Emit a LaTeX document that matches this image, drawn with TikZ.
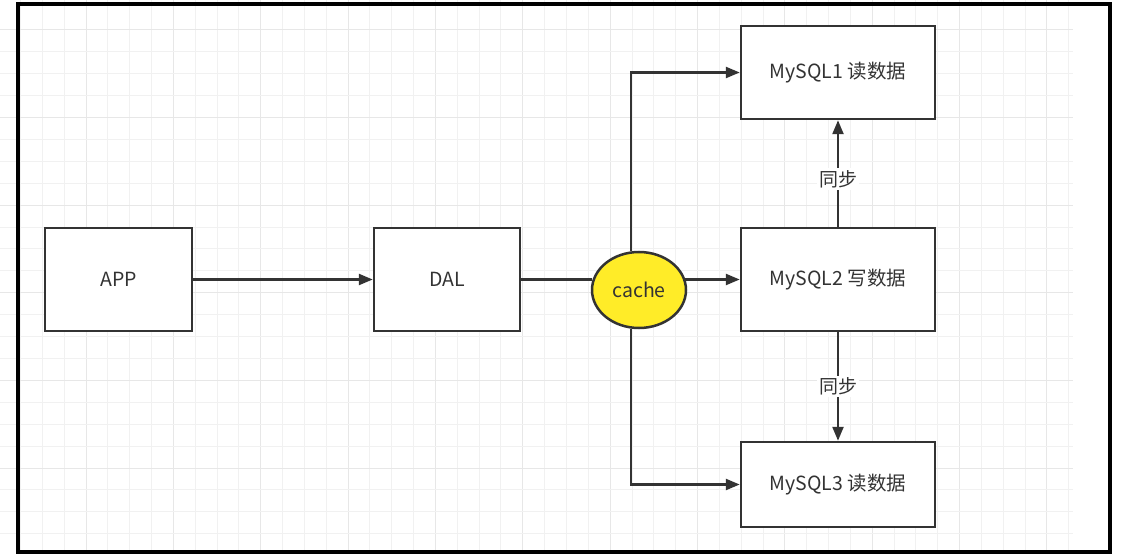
\documentclass[tikz,border=0pt]{standalone}
\usepackage{fontspec}
\setmainfont{Noto Sans CJK SC}
\usetikzlibrary{arrows.meta}
\usetikzlibrary{shapes.geometric}
\definecolor{lineGray}{HTML}{333333}
\definecolor{gridMinor}{HTML}{F1F1F1}
\definecolor{gridMajor}{HTML}{E7E7E7}
\definecolor{cacheYellow}{RGB}{255,236,40}

\begin{document}
\begin{tikzpicture}[x=1pt,y=-1pt,
    box/.style={draw=lineGray,line width=2.5pt,fill=white,inner sep=0pt,text=lineGray,font=\fontsize{19.5}{22}\selectfont},
    arr/.style={draw=lineGray,line width=2.4pt,-{Triangle[length=14pt,width=11pt]}},
    plain/.style={draw=lineGray,line width=2.4pt},
    syncLabel/.style={fill=white,inner sep=2pt,text=lineGray,font=\fontsize{19}{22}\selectfont}]
    \useasboundingbox (0,0) rectangle (1133,556);

    % background grid
    \foreach \k in {0,...,48}{
      \pgfmathtruncatemacro{\m}{mod(\k,4)}
      \ifnum\m=3 \def\gc{gridMajor}\else\def\gc{gridMinor}\fi
      \draw[\gc,line width=1pt] ({20.5+21.84*\k},0) -- ({20.5+21.84*\k},552);
    }
    \foreach \k in {0,...,23}{
      \pgfmathtruncatemacro{\m}{mod(\k,4)}
      \ifnum\m=0 \def\gc{gridMajor}\else\def\gc{gridMinor}\fi
      \draw[\gc,line width=1pt] (0,{30+21.9*\k}) -- (1073,{30+21.9*\k});
    }
    \draw[black,line width=3.5pt] (18,4) rectangle (1110,552);

    \node[box,minimum width=147pt,minimum height=103pt](app) at (118.5,279.5) {APP};
    \node[box,minimum width=146pt,minimum height=103pt](dal) at (447,279.5) {DAL};
    \node[box,minimum width=194pt,minimum height=93pt](mysqlOne) at (838,72.5) {MySQL1 读数据};
    \node[box,minimum width=194pt,minimum height=103pt](mysqlTwo) at (838,279.5) {MySQL2 写数据};
    \node[box,minimum width=194pt,minimum height=85pt](mysqlThree) at (838,484.5) {MySQL3 读数据};
    \node[ellipse,draw=lineGray,line width=2.5pt,fill=cacheYellow,inner sep=0pt,minimum width=94pt,minimum height=76pt,text=lineGray,font=\fontsize{19.5}{22}\selectfont](cache) at (639,290) {cache};

    \draw[arr] (app.east) -- (dal.west);
    \draw[plain] (dal.east) -- ([xshift=1pt]cache.west |- dal.east);
    \draw[arr] ([xshift=-2pt]cache.east |- mysqlTwo.west) -- (mysqlTwo.west);
    \draw[arr] (cache.102) |- (mysqlOne.west);
    \draw[arr] (cache.258) |- (mysqlThree.west);

    \draw[arr] (mysqlTwo.north) -- node[syncLabel,pos=0.45]{同步} (mysqlOne.south);
    \draw[arr] (mysqlTwo.south) -- node[syncLabel,pos=0.5]{同步} (mysqlThree.north);
\end{tikzpicture}
\end{document}
